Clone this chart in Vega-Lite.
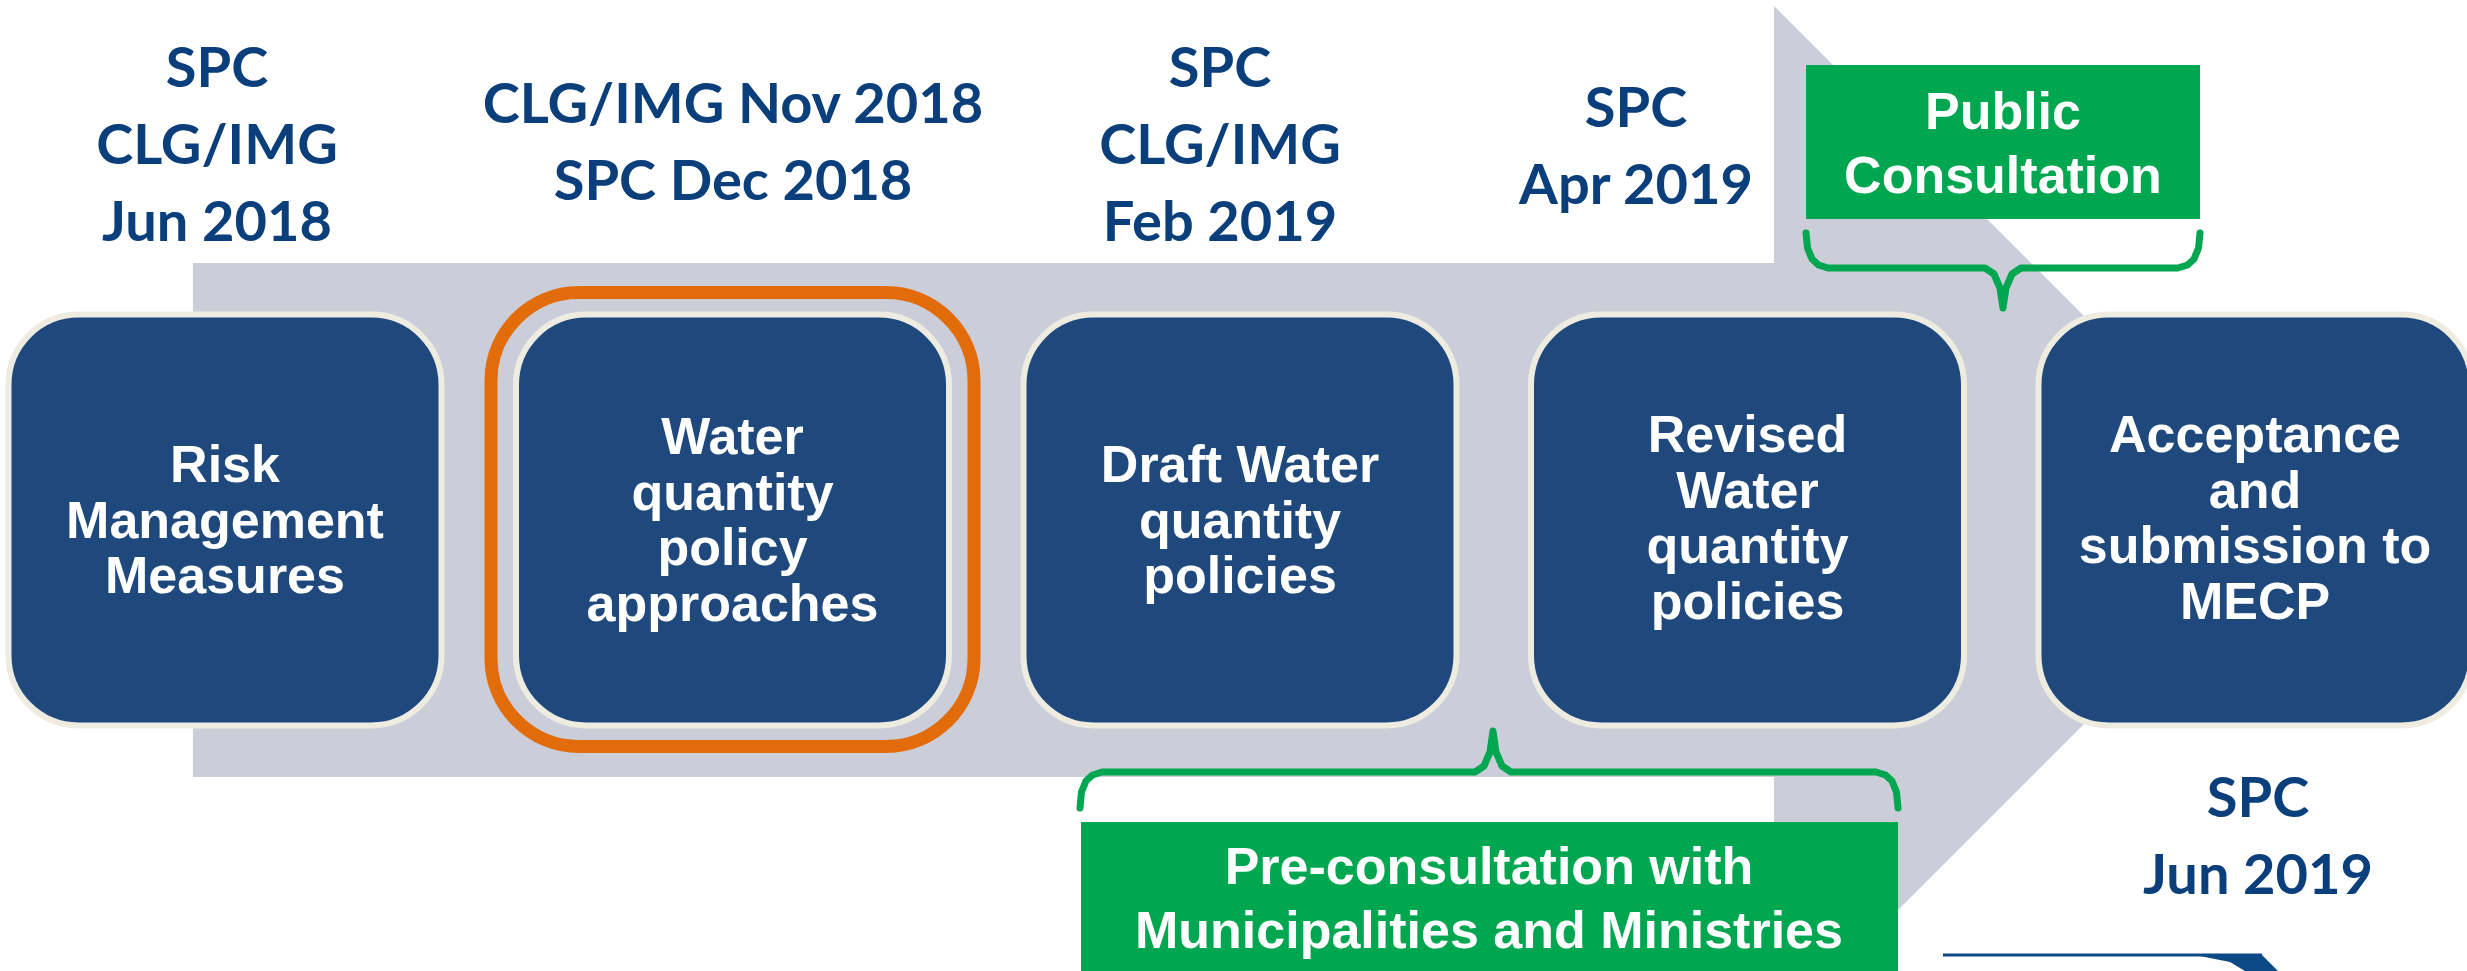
{
  "$schema": "https://vega.github.io/schema/vega-lite/v6.json",
  "width": 2467,
  "height": 971,
  "padding": 0,
  "autosize": {"type": "none"},
  "background": "white",
  "config": {"view": {"stroke": null}},
  "datasets": {
    "band": [{"s": 0.9369, "s2": 4.0522, "top": 263, "bottom": 777}],
    "arrow": [{"s": 4.0522, "top": 6, "bottom": 1034}, {"s": 5.065, "top": 520, "bottom": 520}],
    "stages": [
      {"stage": 1, "name": "Risk\nManagement\nMeasures", "current": false, "first": 466},
      {"stage": 2, "name": "Water\nquantity\npolicy\napproaches", "current": true, "first": 438},
      {"stage": 3, "name": "Draft Water\nquantity\npolicies", "current": false, "first": 466},
      {"stage": 4, "name": "Revised\nWater\nquantity\npolicies", "current": false, "first": 436},
      {"stage": 5, "name": "Acceptance\nand\nsubmission to\nMECP", "current": false, "first": 436}
    ],
    "meetings": [
      {"s": 0.9842, "first": 70, "text": "SPC\nCLG/IMG\nJun 2018"},
      {"s": 2.001, "first": 106, "text": "CLG/IMG Nov 2018\nSPC Dec 2018"},
      {"s": 2.9606, "first": 70, "text": "SPC\nCLG/IMG\nFeb 2019"},
      {"s": 3.7803, "first": 110, "text": "SPC\nApr 2019"},
      {"s": 5.006, "first": 800, "text": "SPC\nJun 2019"}
    ],
    "consult": [
      {"s": 4.1153, "s2": 4.8916, "top": 65, "bottom": 219, "cx": 4.5034, "first": 113, "text": "Public\nConsultation"},
      {"s": 2.6867, "s2": 4.2966, "top": 822, "bottom": 990, "cx": 3.4906, "first": 868, "text": "Pre-consultation with\nMunicipalities and Ministries"}
    ],
    "braces": [
      {"brace": "public", "i": 1, "s": 4.1153, "y": 233},
      {"brace": "public", "i": 2, "s": 4.1182, "y": 248},
      {"brace": "public", "i": 3, "s": 4.1271, "y": 259},
      {"brace": "public", "i": 4, "s": 4.1399, "y": 265},
      {"brace": "public", "i": 5, "s": 4.1586, "y": 268},
      {"brace": "public", "i": 6, "s": 4.468, "y": 268},
      {"brace": "public", "i": 7, "s": 4.4857, "y": 274},
      {"brace": "public", "i": 8, "s": 4.4975, "y": 288},
      {"brace": "public", "i": 9, "s": 4.5034, "y": 308},
      {"brace": "public", "i": 10, "s": 4.5093, "y": 288},
      {"brace": "public", "i": 11, "s": 4.5212, "y": 274},
      {"brace": "public", "i": 12, "s": 4.5389, "y": 268},
      {"brace": "public", "i": 13, "s": 4.8483, "y": 268},
      {"brace": "public", "i": 14, "s": 4.8670, "y": 265},
      {"brace": "public", "i": 15, "s": 4.8798, "y": 259},
      {"brace": "public", "i": 16, "s": 4.8887, "y": 248},
      {"brace": "public", "i": 17, "s": 4.8916, "y": 233},
      {"brace": "pre", "i": 1, "s": 2.6847, "y": 808},
      {"brace": "pre", "i": 2, "s": 2.6876, "y": 792},
      {"brace": "pre", "i": 3, "s": 2.6965, "y": 781},
      {"brace": "pre", "i": 4, "s": 2.7094, "y": 775},
      {"brace": "pre", "i": 5, "s": 2.7281, "y": 772},
      {"brace": "pre", "i": 6, "s": 3.4631, "y": 772},
      {"brace": "pre", "i": 7, "s": 3.4808, "y": 766},
      {"brace": "pre", "i": 8, "s": 3.4926, "y": 752},
      {"brace": "pre", "i": 9, "s": 3.4985, "y": 731},
      {"brace": "pre", "i": 10, "s": 3.5044, "y": 752},
      {"brace": "pre", "i": 11, "s": 3.5163, "y": 766},
      {"brace": "pre", "i": 12, "s": 3.534, "y": 772},
      {"brace": "pre", "i": 13, "s": 4.2532, "y": 772},
      {"brace": "pre", "i": 14, "s": 4.2719, "y": 775},
      {"brace": "pre", "i": 15, "s": 4.2847, "y": 781},
      {"brace": "pre", "i": 16, "s": 4.2936, "y": 792},
      {"brace": "pre", "i": 17, "s": 4.2966, "y": 808}
    ],
    "logoLine": [{"s": 4.3852, "y": 955}, {"s": 5.0138, "y": 955}],
    "logoWedge": [
      {"s": 4.8916, "top": 955, "bottom": 956},
      {"s": 4.9507, "top": 955, "bottom": 962},
      {"s": 4.9803, "top": 955, "bottom": 971},
      {"s": 5.0138, "top": 955, "bottom": 971},
      {"s": 5.0453, "top": 971, "bottom": 971}
    ]
  },
  "layer": [
    {
      "data": {"name": "band"},
      "mark": {"type": "rect", "fill": "#CBCED8"},
      "encoding": {
        "x": {"field": "s", "type": "quantitative", "scale": {"domain": [0.55665, 5.41773], "nice": false, "zero": false}, "axis": null},
        "x2": {"field": "s2"},
        "y": {"field": "top", "type": "quantitative", "scale": {"domain": [971, 0], "nice": false, "zero": false}, "axis": null},
        "y2": {"field": "bottom"}
      }
    },
    {
      "data": {"name": "arrow"},
      "mark": {"type": "area", "fill": "#CBCED8", "clip": true, "interpolate": "linear"},
      "encoding": {
        "x": {"field": "s", "type": "quantitative"},
        "y": {"field": "top", "type": "quantitative"},
        "y2": {"field": "bottom"}
      }
    },
    {
      "data": {"name": "stages"},
      "transform": [{"filter": "datum.current"}],
      "mark": {"type": "rect", "fill": null, "stroke": "#E36C0A", "strokeWidth": 13, "cornerRadius": 88, "xOffset": -241.5, "x2Offset": 241.5, "yOffset": -227, "y2Offset": 227},
      "encoding": {
        "x": {"field": "stage", "type": "quantitative"},
        "x2": {"field": "stage"},
        "y": {"datum": 519.5, "type": "quantitative"},
        "y2": {"datum": 519.5}
      }
    },
    {
      "data": {"name": "stages"},
      "mark": {"type": "rect", "fill": "#1F497D", "stroke": "#EEECE1", "strokeWidth": 6, "cornerRadius": 70, "xOffset": -216.5, "x2Offset": 216.5, "yOffset": -205.5, "y2Offset": 205.5},
      "encoding": {
        "x": {"field": "stage", "type": "quantitative"},
        "x2": {"field": "stage"},
        "y": {"datum": 520, "type": "quantitative"},
        "y2": {"datum": 520}
      }
    },
    {
      "data": {"name": "stages"},
      "mark": {"type": "text", "color": "white", "font": "Liberation Sans", "fontWeight": "bold", "fontSize": 52, "lineHeight": 55.5, "lineBreak": "\n", "align": "center", "baseline": "middle"},
      "encoding": {
        "x": {"field": "stage", "type": "quantitative"},
        "y": {"field": "first", "type": "quantitative"},
        "text": {"field": "name"}
      }
    },
    {
      "data": {"name": "consult"},
      "mark": {"type": "rect", "fill": "#00A650"},
      "encoding": {
        "x": {"field": "s", "type": "quantitative"},
        "x2": {"field": "s2"},
        "y": {"field": "top", "type": "quantitative"},
        "y2": {"field": "bottom"}
      }
    },
    {
      "data": {"name": "consult"},
      "mark": {"type": "text", "color": "white", "font": "Liberation Sans", "fontWeight": "bold", "fontSize": 52, "lineHeight": 64, "lineBreak": "\n", "align": "center", "baseline": "middle"},
      "encoding": {
        "x": {"field": "cx", "type": "quantitative"},
        "y": {"field": "first", "type": "quantitative"},
        "text": {"field": "text"}
      }
    },
    {
      "data": {"name": "braces"},
      "mark": {"type": "line", "stroke": "#00A650", "strokeWidth": 7, "interpolate": "linear", "strokeJoin": "round", "strokeCap": "round"},
      "encoding": {
        "x": {"field": "s", "type": "quantitative"},
        "y": {"field": "y", "type": "quantitative"},
        "detail": {"field": "brace"},
        "order": {"field": "i"}
      }
    },
    {
      "data": {"name": "meetings"},
      "mark": {"type": "text", "color": "#0A3F7B", "font": "Lato", "fontWeight": "bold", "fontSize": 56, "lineHeight": 77, "lineBreak": "\n", "align": "center", "baseline": "middle"},
      "encoding": {
        "x": {"field": "s", "type": "quantitative"},
        "y": {"field": "first", "type": "quantitative"},
        "text": {"field": "text"}
      }
    },
    {
      "data": {"name": "logoLine"},
      "mark": {"type": "line", "stroke": "#0B4A86", "strokeWidth": 3},
      "encoding": {
        "x": {"field": "s", "type": "quantitative"},
        "y": {"field": "y", "type": "quantitative"}
      }
    },
    {
      "data": {"name": "logoWedge"},
      "mark": {"type": "area", "fill": "#0B4A86", "interpolate": "linear"},
      "encoding": {
        "x": {"field": "s", "type": "quantitative"},
        "y": {"field": "top", "type": "quantitative"},
        "y2": {"field": "bottom"}
      }
    }
  ]
}
